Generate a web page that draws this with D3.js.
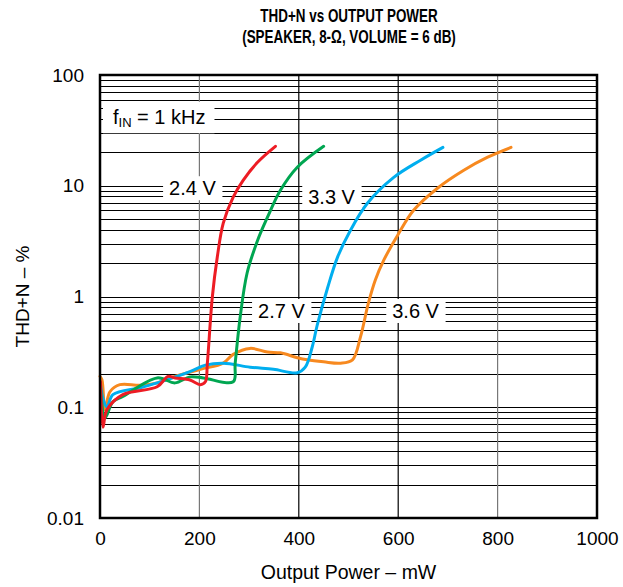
<!DOCTYPE html>
<html>
<head>
<meta charset="utf-8">
<script src="https://cdn.jsdelivr.net/npm/d3@7"></script>
<style>
  body { margin: 0; background: #fff; }
  svg text { font-family: "Liberation Sans", Arial, sans-serif; }
</style>
</head>
<body>
<div id="chart"></div>
<script>
// curves: output power in mW, THD+N in %
const power24 = [1, 6, 14, 46, 115, 137, 151, 181, 202, 212, 216, 226, 236, 248, 268, 288, 317, 353];
const thd24   = [0.17, 0.066, 0.095, 0.13, 0.153, 0.19, 0.184, 0.176, 0.16, 0.17, 0.25, 0.99, 2.27, 4.6, 7.9, 11.2, 16.3, 22.7];

const power27 = [1, 10, 26, 46, 115, 151, 181, 208, 268, 272, 282, 296, 317, 337, 363, 397, 450];
const thd27   = [0.15, 0.08, 0.112, 0.125, 0.184, 0.166, 0.188, 0.184, 0.17, 0.25, 0.65, 1.63, 3.2, 5.2, 9.1, 14.7, 22.7];

const power33 = [1, 6, 14, 26, 81, 115, 181, 212, 248, 302, 349, 397, 413, 427, 437, 458, 478, 504, 538, 591, 645, 690];
const thd33   = [0.16, 0.12, 0.1, 0.13, 0.15, 0.166, 0.21, 0.24, 0.25, 0.23, 0.22, 0.205, 0.23, 0.35, 0.55, 1.2, 2.27, 3.97, 6.95, 11.9, 17, 22.2];

const power36 = [0, 4, 10, 20, 40, 81, 115, 147, 202, 248, 268, 302, 337, 363, 397, 417, 450, 484, 508, 524, 540, 554, 571, 599, 631, 679, 732, 780, 827];
const thd36   = [0.19, 0.176, 0.095, 0.138, 0.16, 0.158, 0.166, 0.188, 0.22, 0.25, 0.30, 0.34, 0.315, 0.31, 0.28, 0.268, 0.257, 0.25, 0.268, 0.43, 0.87, 1.41, 2.13, 3.58, 6.0, 9.5, 13.8, 18.1, 22.2];

const seriesNames  = ["2.4 V", "2.7 V", "3.3 V", "3.6 V"];
const seriesColors = ["#ed1c24", "#00a651", "#00aeef", "#f7891f"];

const xTicks = [0, 200, 400, 600, 800, 1000];
const yTicks = [0.01, 0.1, 1, 10, 100];
const yTickLabels = ["0.01", "0.1", "1", "10", "100"];

// curve labels, anchored in data units (mW, %)
const labelText  = ["2.4 V", "3.3 V", "2.7 V", "3.6 V"];
const labelPower = [186, 466, 365, 635];
const labelThd   = [9.5, 7.9, 0.74, 0.74];

const W = 623, H = 587;
const margin = { top: 75, right: 26, bottom: 69, left: 100 };
const width = W - margin.left - margin.right;
const height = H - margin.top - margin.bottom;

const svg = d3.select("#chart").append("svg")
    .attr("width", W)
    .attr("height", H);

const g = svg.append("g")
    .attr("transform", `translate(${margin.left},${margin.top})`);

const x = d3.scaleLinear().domain([0, 1000]).range([0, width]);
const y = d3.scaleLog().domain([0.01, 100]).range([height, 0]);

// horizontal grid at every 1..9 of each decade
const hGrid = [];
[0.01, 0.1, 1, 10].forEach(d => { for (let k = 1; k <= 9; k++) hGrid.push(d * k); });

g.append("g")
    .selectAll("line")
    .data(hGrid)
    .enter()
    .append("line")
    .attr("x1", 0)
    .attr("x2", width)
    .attr("y1", d => Math.round(y(d)) + 0.5)
    .attr("y2", d => Math.round(y(d)) + 0.5)
    .attr("stroke", "#000")
    .attr("stroke-width", 1.2);

g.append("g")
    .selectAll("line")
    .data(xTicks.slice(1, -1))
    .enter()
    .append("line")
    .attr("x1", d => x(d))
    .attr("x2", d => x(d))
    .attr("y1", 0)
    .attr("y2", height)
    .attr("stroke", (d, i) => (i === 0 || i === 3) ? "#777" : "#000")
    .attr("stroke-width", 1.2);

// curves
const line = d3.line()
    .x(d => x(d[0]))
    .y(d => y(d[1]))
    .curve(d3.curveCatmullRom.alpha(0.5));

const series = [
    d3.zip(power24, thd24),
    d3.zip(power27, thd27),
    d3.zip(power33, thd33),
    d3.zip(power36, thd36)
];

// draw 3.6 first so the lower voltages sit on top, as in the picture
[3, 2, 1, 0].forEach(i => {
    g.append("path")
        .datum(series[i])
        .attr("fill", "none")
        .attr("stroke", seriesColors[i])
        .attr("stroke-width", 3)
        .attr("stroke-linejoin", "round")
        .attr("stroke-linecap", "round")
        .attr("d", line);
});

// white-boxed annotations
function boxedLabel(parent, tx, ty, anchor, padL, padR, padV, build) {
    const grp = parent.append("g");
    const rect = grp.append("rect").attr("fill", "#fff");
    const t = grp.append("text")
        .attr("x", tx)
        .attr("y", ty)
        .attr("text-anchor", anchor)
        .attr("dominant-baseline", "central")
        .attr("font-size", 20)
        .attr("fill", "#000");
    build(t);
    const bb = t.node().getBBox();
    rect.attr("x", bb.x - padL)
        .attr("y", bb.y - padV)
        .attr("width", bb.width + padL + padR)
        .attr("height", bb.height + padV * 2);
}

labelText.forEach((txt, i) => {
    boxedLabel(g, x(labelPower[i]), y(labelThd[i]), "middle", 6, 6, 1, t => t.text(txt));
});

boxedLabel(g, x(2) + 12, y(42), "start", 10, 9, 4, t => {
    t.append("tspan").text("f");
    t.append("tspan").attr("font-size", 13).attr("dy", 5).text("IN");
    t.append("tspan").attr("dy", -5).text(" = 1 kHz");
});

// frame
g.append("rect")
    .attr("width", width)
    .attr("height", height)
    .attr("fill", "none")
    .attr("stroke", "#000")
    .attr("stroke-width", 2.5);

// axes labels
const xAxis = g.append("g")
    .attr("transform", `translate(0,${height})`)
    .call(d3.axisBottom(x).tickValues(xTicks).tickSize(0).tickPadding(14).tickFormat(d3.format("d")));
xAxis.select(".domain").remove();
xAxis.selectAll("text")
    .attr("font-size", 19)
    .attr("font-family", "Liberation Sans, Arial, sans-serif")
    .attr("fill", "#000");

const yAxis = g.append("g")
    .call(d3.axisLeft(y).tickValues(yTicks).tickSize(0).tickPadding(16).tickFormat((d, i) => yTickLabels[i]));
yAxis.select(".domain").remove();
yAxis.selectAll("text")
    .attr("font-size", 19)
    .attr("font-family", "Liberation Sans, Arial, sans-serif")
    .attr("fill", "#000");

// titles: the original uses a condensed bold face, so squeeze horizontally
svg.append("text")
    .attr("transform", "translate(349,22) scale(0.76,1)")
    .attr("text-anchor", "middle")
    .attr("font-size", 17.7)
    .attr("font-weight", "bold")
    .text("THD+N vs OUTPUT POWER");

svg.append("text")
    .attr("transform", "translate(349,43) scale(0.76,1)")
    .attr("text-anchor", "middle")
    .attr("font-size", 17.7)
    .attr("font-weight", "bold")
    .text("(SPEAKER, 8-\u03A9, VOLUME = 6 dB)");

svg.append("text")
    .attr("x", margin.left + width / 2)
    .attr("y", 579)
    .attr("text-anchor", "middle")
    .attr("font-size", 19.5)
    .text("Output Power \u2013 mW");

svg.append("text")
    .attr("transform", `translate(29,${margin.top + height / 2}) rotate(-90)`)
    .attr("text-anchor", "middle")
    .attr("font-size", 19)
    .text("THD+N \u2013 %");
</script>
</body>
</html>
